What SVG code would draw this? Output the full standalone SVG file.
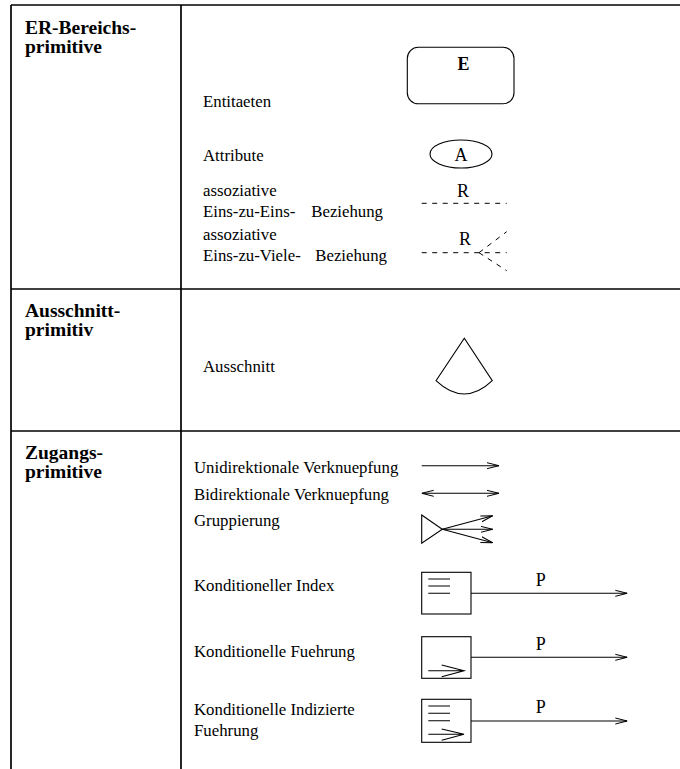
<svg xmlns="http://www.w3.org/2000/svg" width="680" height="769" viewBox="0 0 680 769">
  <style>
    .grid { stroke: #000; stroke-width: 1.7; fill: none; }
    .head { font-family: "Liberation Serif", "Times New Roman", serif; font-weight: bold; font-size: 19.5px; fill: #000; }
    .lbl { font-family: "Liberation Serif", "Times New Roman", serif; font-size: 16.8px; fill: #000; }
    .sym { font-family: "Liberation Serif", "Times New Roman", serif; font-size: 18px; fill: #000; text-anchor: middle; }
    .shape { stroke: #000; stroke-width: 1.1; fill: none; }
    .dash { stroke: #000; stroke-width: 1; fill: none; stroke-dasharray: 5 5.5; }
  </style>
  <defs>
    <marker id="open" viewBox="0 0 12 8" refX="12" refY="4" markerWidth="12" markerHeight="8" markerUnits="userSpaceOnUse" orient="auto-start-reverse">
      <path d="M0,1 L12,4 L0,7" fill="none" stroke="#000" stroke-width="1"/>
    </marker>
  </defs>
  <rect width="680" height="769" fill="#fff"/>

  <!-- table grid -->
  <g id="table" class="grid">
    <line x1="11" y1="5" x2="680" y2="5"/>
    <line x1="11" y1="289" x2="680" y2="289"/>
    <line x1="11" y1="431" x2="680" y2="431"/>
    <line x1="11" y1="5" x2="11" y2="769"/>
    <line x1="181" y1="5" x2="181" y2="769"/>
  </g>

  <!-- row headings -->
  <g id="headings">
    <text class="head" x="25" y="34">ER-Bereichs-</text>
    <text class="head" x="25" y="53">primitive</text>
    <text class="head" x="25" y="317">Ausschnitt-</text>
    <text class="head" x="25" y="336">primitiv</text>
    <text class="head" x="25" y="459">Zugangs-</text>
    <text class="head" x="25" y="478">primitive</text>
  </g>

  <!-- ER primitives -->
  <g id="entity">
    <text class="lbl" x="203" y="107">Entitaeten</text>
    <rect class="shape" x="407.3" y="47.3" width="106.7" height="56.5" rx="11"/>
    <text class="sym" x="463.5" y="69.5" font-weight="bold">E</text>
  </g>
  <g id="attribute">
    <text class="lbl" x="203" y="161">Attribute</text>
    <ellipse class="shape" cx="461" cy="154" rx="31" ry="14"/>
    <text class="sym" x="461" y="160.5">A</text>
  </g>
  <g id="one-to-one">
    <text class="lbl" x="203" y="196">assoziative</text>
    <text class="lbl" x="203" y="217">Eins-zu-Eins-</text>
    <text class="lbl" x="383" y="217" text-anchor="end">Beziehung</text>
    <text class="sym" x="463" y="196.5">R</text>
    <line class="dash" x1="421.7" y1="203.3" x2="506.7" y2="203.3"/>
  </g>
  <g id="one-to-many">
    <text class="lbl" x="203" y="240">assoziative</text>
    <text class="lbl" x="203" y="261">Eins-zu-Viele-</text>
    <text class="lbl" x="387" y="261" text-anchor="end">Beziehung</text>
    <text class="sym" x="465" y="245">R</text>
    <line class="dash" x1="421.7" y1="252.7" x2="506.7" y2="252.7"/>
    <line class="dash" x1="479" y1="252.7" x2="506.7" y2="231.7" stroke-dasharray="4.5 5"/>
    <line class="dash" x1="479" y1="252.7" x2="506.7" y2="270.7" stroke-dasharray="4.5 5"/>
  </g>

  <!-- Ausschnitt primitive -->
  <g id="ausschnitt">
    <text class="lbl" x="203" y="372">Ausschnitt</text>
    <path class="shape" d="M436,380.7 L464.3,338.3 L492.3,380.7 Q464.2,407.3 436,380.7 Z"/>
  </g>

  <!-- access primitives -->
  <g id="uni">
    <text class="lbl" x="194" y="473">Unidirektionale Verknuepfung</text>
  </g>
  <g id="bi">
    <text class="lbl" x="194" y="500">Bidirektionale Verknuepfung</text>
  </g>
  <g id="grouping">
    <text class="lbl" x="194" y="526">Gruppierung</text>
    <path class="shape" d="M421.7,515 L442.3,529.3 L421.7,543.3 Z"/>
  </g>
  <g id="cond-index">
    <text class="lbl" x="194" y="591">Konditioneller Index</text>
    <rect class="shape" x="421.7" y="572.3" width="49.3" height="41.7"/>
    <path class="shape" d="M428.3,579 H450 M428.3,586 H450 M428.3,593.3 H450"/>
    <text class="sym" x="540.7" y="586">P</text>
  </g>
  <g id="cond-lead">
    <text class="lbl" x="194" y="657">Konditionelle Fuehrung</text>
    <rect class="shape" x="421.7" y="636.7" width="49.3" height="41.6"/>
    <path class="shape" d="M428.3,670.7 H464 M441.7,665 L464,670.7 L441.7,676.7"/>
    <text class="sym" x="540.7" y="650">P</text>
  </g>
  <g id="cond-indexed-lead">
    <text class="lbl" x="194" y="715">Konditionelle Indizierte</text>
    <text class="lbl" x="194" y="736">Fuehrung</text>
    <rect class="shape" x="421.7" y="699.3" width="49.3" height="43"/>
    <path class="shape" d="M428.3,706 H450 M428.3,713.3 H450 M428.3,720.7 H450"/>
    <path class="shape" d="M428.3,734.3 H464 M441.7,729 L464,734.3 L441.7,740.3"/>
    <text class="sym" x="540.7" y="713.3">P</text>
  </g>

  <!-- connectors -->
  <g id="connectors" class="shape">
    <line x1="421.7" y1="465.7" x2="499" y2="465.7" marker-end="url(#open)"/>
    <line x1="421.7" y1="493.3" x2="499" y2="493.3" marker-start="url(#open)" marker-end="url(#open)"/>
    <line x1="442.3" y1="529.3" x2="492.7" y2="515.7" marker-end="url(#open)"/>
    <line x1="442.3" y1="529.3" x2="492.7" y2="529.3" marker-end="url(#open)"/>
    <line x1="442.3" y1="529.3" x2="492.7" y2="542.7" marker-end="url(#open)"/>
    <line x1="471" y1="593.3" x2="627.3" y2="593.3" marker-end="url(#open)"/>
    <line x1="471" y1="657.3" x2="627.3" y2="657.3" marker-end="url(#open)"/>
    <line x1="471" y1="721" x2="627.3" y2="721" marker-end="url(#open)"/>
  </g>
</svg>
